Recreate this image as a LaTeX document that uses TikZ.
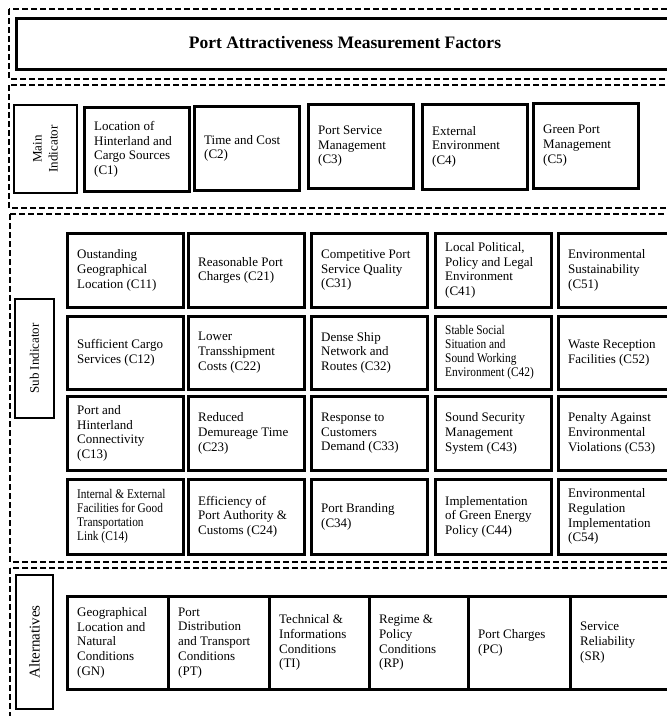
\documentclass[tikz,border=0pt]{standalone}
\usepackage{fontspec}
\setmainfont{Liberation Serif}
\newfontfamily\narrowserif[FakeStretch=0.86]{Liberation Serif}
\newcommand{\mycell}[7][]{%
  \pgfmathsetmacro{\mycw}{#5-#3}%
  \pgfmathsetmacro{\mych}{#6-#4}%
  \node[cellbox, anchor=north west, minimum width=\mycw pt, minimum height=\mych pt] (#2) at (#3,#4) {};
  \node[celltext, anchor=west, #1] (#2-t) at ([xshift=11pt]#2.west) {#7};}
\tikzset{
  cellbox/.style={draw, line width=2.5pt, inner sep=0pt},
  celltext/.style={align=left, inner sep=0pt, font=\fontsize{13}{14.7}\selectfont},
  smalltext/.style={font=\narrowserif\fontsize{13.2}{14}\selectfont},
  sectbox/.style={draw, line width=2pt, dash pattern=on 6pt off 3pt},
  sidebox/.style={draw, line width=2.5pt, align=center, rotate=90, inner sep=0pt,
    font=\fontsize{13}{16}\selectfont},
}
\begin{document}
\begin{tikzpicture}[x=1pt,y=-1pt]
\useasboundingbox (0,0) rectangle (667,716);
\clip (0,0) rectangle (667,716);
% sections
\draw[sectbox] (9,9) rectangle (700,79);
\draw[sectbox] (9,85) rectangle (700,208);
\draw[sectbox] (10,214) rectangle (700,562);
\draw[sectbox] (10,568) rectangle (700,760);
% title
\node[draw, line width=2.5pt, anchor=north west, minimum width=680pt, minimum height=51pt,
  inner sep=0pt] (title) at (15,17) {};
\node[font=\fontsize{17.5}{20}\selectfont\bfseries] (titletext) at (345,43) {Port Attractiveness Measurement Factors};
% main indicator
\node[sidebox, minimum width=88pt, minimum height=63pt] (main) at (45.5,149) {Main\\Indicator};
\mycell{c1}{83}{106}{188}{190}{Location of\\Hinterland and\\Cargo Sources\\(C1)}
\mycell{c2}{193}{105}{298}{189}{Time and Cost\\(C2)}
\mycell{c3}{307}{103}{412}{187}{Port Service\\Management\\(C3)}
\mycell{c4}{421}{103}{526}{188}{External\\Environment\\(C4)}
\mycell{c5}{532}{102}{637}{187}{Green Port\\Management\\(C5)}
% sub indicator
\node[sidebox, minimum width=119pt, minimum height=39pt] (sub) at (34.5,358.5) {Sub Indicator};
\mycell{c11}{66}{232}{182}{306}{Oustanding\\Geographical\\Location (C11)}
\mycell{c21}{187}{232}{303}{306}{Reasonable Port\\Charges (C21)}
\mycell{c31}{310}{232}{426}{306}{Competitive Port\\Service Quality\\(C31)}
\mycell{c41}{434}{232}{550}{306}{Local Political,\\Policy and Legal\\Environment\\(C41)}
\mycell{c51}{557}{232}{690}{306}{Environmental\\Sustainability\\(C51)}
\mycell{c12}{66}{315}{182}{388}{Sufficient Cargo\\Services (C12)}
\mycell{c22}{187}{315}{303}{388}{Lower\\Transshipment\\Costs (C22)}
\mycell{c32}{310}{315}{426}{388}{Dense Ship\\Network and\\Routes (C32)}
\mycell[smalltext]{c42}{434}{315}{550}{388}{Stable Social\\Situation and\\Sound Working\\Environment (C42)}
\mycell{c52}{557}{315}{690}{388}{Waste Reception\\Facilities (C52)}
\mycell{c13}{66}{395}{182}{469}{Port and\\Hinterland\\Connectivity\\(C13)}
\mycell{c23}{187}{395}{303}{469}{Reduced\\Demureage Time\\(C23)}
\mycell{c33}{310}{395}{426}{469}{Response to\\Customers\\Demand (C33)}
\mycell{c43}{434}{395}{550}{469}{Sound Security\\Management\\System (C43)}
\mycell{c53}{557}{395}{690}{469}{Penalty Against\\Environmental\\Violations (C53)}
\mycell[smalltext]{c14}{66}{478}{182}{553}{Internal \& External\\Facilities for Good\\Transportation\\Link (C14)}
\mycell{c24}{187}{478}{303}{553}{Efficiency of\\Port Authority \&\\Customs (C24)}
\mycell{c34}{310}{478}{426}{553}{Port Branding\\(C34)}
\mycell{c44}{434}{478}{550}{553}{Implementation\\of Green Energy\\Policy (C44)}
\mycell{c54}{557}{478}{690}{553}{Environmental\\Regulation\\Implementation\\(C54)}
% alternatives
\node[sidebox, minimum width=134pt, minimum height=37pt, font=\fontsize{15}{17}\selectfont] (alt) at (34.5,642) {Alternatives};
\mycell{gn}{66}{595}{167}{688}{Geographical\\Location and\\Natural\\Conditions\\(GN)}
\mycell{pt}{167}{595}{268}{688}{Port\\Distribution\\and Transport\\Conditions\\(PT)}
\mycell{ti}{268}{595}{368}{688}{Technical \&\\Informations\\Conditions\\(TI)}
\mycell{rp}{368}{595}{467}{688}{Regime \&\\Policy\\Conditions\\(RP)}
\mycell{pc}{467}{595}{569}{688}{Port Charges\\(PC)}
\mycell{sr}{569}{595}{690}{688}{Service\\Reliability\\(SR)}
\end{tikzpicture}
\end{document}
